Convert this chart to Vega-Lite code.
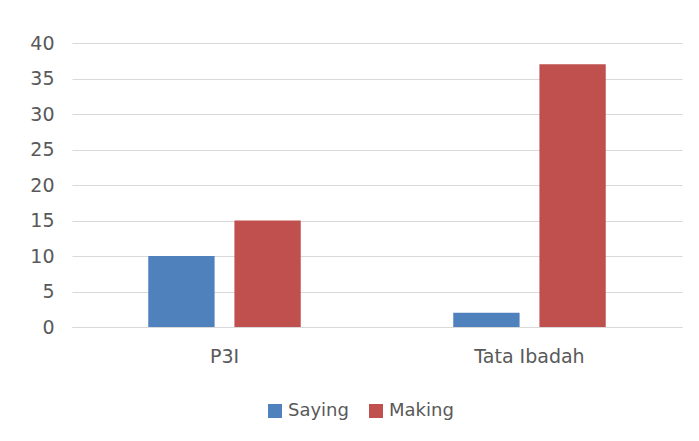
{
  "$schema": "https://vega.github.io/schema/vega-lite/v6.json",
  "width": 610,
  "height": 284,
  "autosize": {"type": "none"},
  "padding": {"left": 72, "top": 43, "right": 17, "bottom": 114},
  "background": "white",
  "data": {"values": [
    {"category": "P3I", "series": "Saying", "value": 10},
    {"category": "P3I", "series": "Making", "value": 15},
    {"category": "Tata Ibadah", "series": "Saying", "value": 2},
    {"category": "Tata Ibadah", "series": "Making", "value": 37}
  ]},
  "mark": {"type": "bar"},
  "encoding": {
    "x": {
      "field": "category", "type": "nominal", "title": null,
      "scale": {"paddingInner": 0.5, "paddingOuter": 0.25},
      "axis": {"labelAngle": 0, "ticks": false, "domain": true, "domainColor": "#d9d9d9", "labelPadding": 20, "labelFontSize": 19, "labelColor": "#595959", "labelFont": "DejaVu Sans"}
    },
    "xOffset": {
      "field": "series", "type": "nominal",
      "sort": ["Saying", "Making"],
      "scale": {"paddingInner": 0.23, "paddingOuter": 0}
    },
    "y": {
      "field": "value", "type": "quantitative", "title": null,
      "scale": {"domain": [0, 40]},
      "axis": {"values": [0, 5, 10, 15, 20, 25, 30, 35, 40], "domain": false, "ticks": false, "labelPadding": 18, "labelFontSize": 19, "labelColor": "#595959", "labelFont": "DejaVu Sans", "gridColor": "#d9d9d9"}
    },
    "color": {
      "field": "series", "type": "nominal", "sort": ["Saying", "Making"], "title": null,
      "scale": {"domain": ["Saying", "Making"], "range": ["#4f81bd", "#c0504d"]},
      "legend": {"orient": "none", "direction": "horizontal", "legendX": 194, "legendY": 359, "symbolType": "square", "symbolSize": 196, "symbolStrokeWidth": 0, "labelFontSize": 18, "labelColor": "#595959", "labelFont": "DejaVu Sans", "columnPadding": 18, "labelOffset": 4}
    }
  },
  "config": {"view": {"stroke": null}}
}
